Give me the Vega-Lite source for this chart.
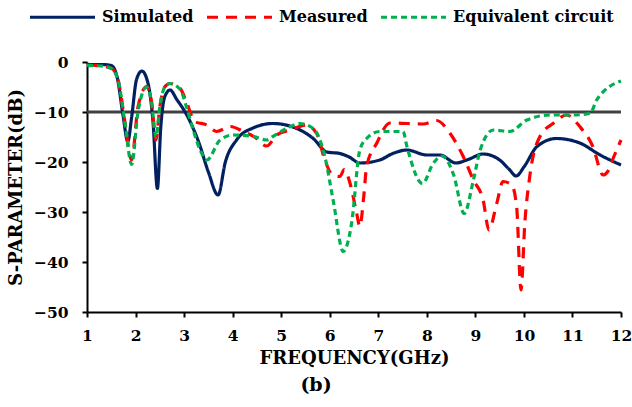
{
  "$schema": "https://vega.github.io/schema/vega-lite/v6.json",
  "width": 534,
  "height": 250,
  "autosize": {"type": "none"},
  "padding": {"left": 87, "top": 62, "right": 11, "bottom": 95},
  "background": "white",
  "title": {"text": "(b)", "orient": "bottom", "font": "DejaVu Serif", "fontWeight": "bold", "fontSize": 19, "color": "black", "offset": 8, "anchor": "middle", "dx": -38},
  "config": {"view": {"stroke": null}, "font": "DejaVu Serif"},
  "layer": [
    {
      "data": {"values": [{"f1": 1, "f2": 12, "v": -10}]},
      "mark": {"type": "rule", "color": "#404040", "strokeWidth": 3},
      "encoding": {
        "x": {"field": "f1", "type": "quantitative", "scale": {"domain": [1, 12], "nice": false}},
        "x2": {"field": "f2"},
        "y": {"field": "v", "type": "quantitative"}
      }
    },
    {
      "data": {"values": [
        {"s": "Simulated", "f": 1, "v": -0.5}, {"s": "Simulated", "f": 1.3, "v": -0.5}, {"s": "Simulated", "f": 1.5, "v": -0.7}, {"s": "Simulated", "f": 1.62, "v": -3}, {"s": "Simulated", "f": 1.74, "v": -10.5}, {"s": "Simulated", "f": 1.84, "v": -15.9}, {"s": "Simulated", "f": 1.92, "v": -11}, {"s": "Simulated", "f": 2.02, "v": -3.5}, {"s": "Simulated", "f": 2.13, "v": -1.8}, {"s": "Simulated", "f": 2.25, "v": -4}, {"s": "Simulated", "f": 2.36, "v": -12}, {"s": "Simulated", "f": 2.45, "v": -25.3}, {"s": "Simulated", "f": 2.52, "v": -13}, {"s": "Simulated", "f": 2.6, "v": -7}, {"s": "Simulated", "f": 2.71, "v": -5.6}, {"s": "Simulated", "f": 2.85, "v": -7.5}, {"s": "Simulated", "f": 3.05, "v": -10.5}, {"s": "Simulated", "f": 3.3, "v": -16}, {"s": "Simulated", "f": 3.5, "v": -22}, {"s": "Simulated", "f": 3.7, "v": -26.6}, {"s": "Simulated", "f": 3.85, "v": -20}, {"s": "Simulated", "f": 4.08, "v": -15.6}, {"s": "Simulated", "f": 4.42, "v": -13.2}, {"s": "Simulated", "f": 4.83, "v": -12.3}, {"s": "Simulated", "f": 5.24, "v": -13}, {"s": "Simulated", "f": 5.66, "v": -15.3}, {"s": "Simulated", "f": 5.94, "v": -18}, {"s": "Simulated", "f": 6.21, "v": -18.3}, {"s": "Simulated", "f": 6.4, "v": -19}, {"s": "Simulated", "f": 6.62, "v": -20.2}, {"s": "Simulated", "f": 7.03, "v": -19.6}, {"s": "Simulated", "f": 7.3, "v": -18.3}, {"s": "Simulated", "f": 7.59, "v": -17.6}, {"s": "Simulated", "f": 8.0, "v": -18.6}, {"s": "Simulated", "f": 8.27, "v": -18.6}, {"s": "Simulated", "f": 8.6, "v": -20.2}, {"s": "Simulated", "f": 8.85, "v": -19.5}, {"s": "Simulated", "f": 9.16, "v": -18.4}, {"s": "Simulated", "f": 9.5, "v": -19.6}, {"s": "Simulated", "f": 9.7, "v": -21.5}, {"s": "Simulated", "f": 9.84, "v": -22.8}, {"s": "Simulated", "f": 10.0, "v": -21}, {"s": "Simulated", "f": 10.27, "v": -16.9}, {"s": "Simulated", "f": 10.67, "v": -15.3}, {"s": "Simulated", "f": 11.15, "v": -16.2}, {"s": "Simulated", "f": 11.57, "v": -18.6}, {"s": "Simulated", "f": 12, "v": -20.6},
        {"s": "Measured", "f": 1, "v": -0.6}, {"s": "Measured", "f": 1.3, "v": -0.8}, {"s": "Measured", "f": 1.5, "v": -1.2}, {"s": "Measured", "f": 1.65, "v": -4}, {"s": "Measured", "f": 1.78, "v": -12}, {"s": "Measured", "f": 1.92, "v": -19.6}, {"s": "Measured", "f": 2.05, "v": -9}, {"s": "Measured", "f": 2.23, "v": -4.9}, {"s": "Measured", "f": 2.33, "v": -8}, {"s": "Measured", "f": 2.42, "v": -15.6}, {"s": "Measured", "f": 2.5, "v": -9}, {"s": "Measured", "f": 2.6, "v": -5}, {"s": "Measured", "f": 2.71, "v": -4.3}, {"s": "Measured", "f": 2.92, "v": -5.3}, {"s": "Measured", "f": 3.05, "v": -8}, {"s": "Measured", "f": 3.22, "v": -11.9}, {"s": "Measured", "f": 3.47, "v": -12.6}, {"s": "Measured", "f": 3.67, "v": -13.9}, {"s": "Measured", "f": 3.95, "v": -12.9}, {"s": "Measured", "f": 4.22, "v": -13.9}, {"s": "Measured", "f": 4.45, "v": -15}, {"s": "Measured", "f": 4.7, "v": -16.8}, {"s": "Measured", "f": 4.91, "v": -14.6}, {"s": "Measured", "f": 5.18, "v": -13.6}, {"s": "Measured", "f": 5.52, "v": -12.6}, {"s": "Measured", "f": 5.73, "v": -14.3}, {"s": "Measured", "f": 5.9, "v": -19.6}, {"s": "Measured", "f": 6.05, "v": -22.5}, {"s": "Measured", "f": 6.21, "v": -22.9}, {"s": "Measured", "f": 6.3, "v": -21.5}, {"s": "Measured", "f": 6.42, "v": -24.3}, {"s": "Measured", "f": 6.55, "v": -30}, {"s": "Measured", "f": 6.62, "v": -32.9}, {"s": "Measured", "f": 6.7, "v": -27}, {"s": "Measured", "f": 6.76, "v": -20.9}, {"s": "Measured", "f": 6.97, "v": -16.2}, {"s": "Measured", "f": 7.24, "v": -12.2}, {"s": "Measured", "f": 7.59, "v": -12.3}, {"s": "Measured", "f": 7.92, "v": -12.4}, {"s": "Measured", "f": 8.2, "v": -11.7}, {"s": "Measured", "f": 8.48, "v": -14.3}, {"s": "Measured", "f": 8.75, "v": -18.9}, {"s": "Measured", "f": 8.96, "v": -23.6}, {"s": "Measured", "f": 9.16, "v": -27.6}, {"s": "Measured", "f": 9.28, "v": -33.6}, {"s": "Measured", "f": 9.44, "v": -28.3}, {"s": "Measured", "f": 9.57, "v": -23.9}, {"s": "Measured", "f": 9.75, "v": -24.6}, {"s": "Measured", "f": 9.85, "v": -28.9}, {"s": "Measured", "f": 9.94, "v": -45.6}, {"s": "Measured", "f": 10.02, "v": -32}, {"s": "Measured", "f": 10.12, "v": -22.9}, {"s": "Measured", "f": 10.33, "v": -14.9}, {"s": "Measured", "f": 10.6, "v": -12.3}, {"s": "Measured", "f": 10.88, "v": -10.6}, {"s": "Measured", "f": 11.15, "v": -12.9}, {"s": "Measured", "f": 11.42, "v": -16.9}, {"s": "Measured", "f": 11.63, "v": -22.6}, {"s": "Measured", "f": 11.72, "v": -22}, {"s": "Measured", "f": 11.85, "v": -19}, {"s": "Measured", "f": 12, "v": -15.6},
        {"s": "Equivalent circuit", "f": 1, "v": -0.7}, {"s": "Equivalent circuit", "f": 1.3, "v": -0.8}, {"s": "Equivalent circuit", "f": 1.5, "v": -1.3}, {"s": "Equivalent circuit", "f": 1.65, "v": -4}, {"s": "Equivalent circuit", "f": 1.78, "v": -12}, {"s": "Equivalent circuit", "f": 1.92, "v": -20.5}, {"s": "Equivalent circuit", "f": 2.05, "v": -10}, {"s": "Equivalent circuit", "f": 2.23, "v": -5}, {"s": "Equivalent circuit", "f": 2.33, "v": -8}, {"s": "Equivalent circuit", "f": 2.42, "v": -15}, {"s": "Equivalent circuit", "f": 2.5, "v": -9}, {"s": "Equivalent circuit", "f": 2.6, "v": -5}, {"s": "Equivalent circuit", "f": 2.71, "v": -4.3}, {"s": "Equivalent circuit", "f": 2.92, "v": -5.5}, {"s": "Equivalent circuit", "f": 3.05, "v": -9}, {"s": "Equivalent circuit", "f": 3.2, "v": -14}, {"s": "Equivalent circuit", "f": 3.33, "v": -17.6}, {"s": "Equivalent circuit", "f": 3.47, "v": -19.6}, {"s": "Equivalent circuit", "f": 3.74, "v": -15.6}, {"s": "Equivalent circuit", "f": 4.01, "v": -14.6}, {"s": "Equivalent circuit", "f": 4.42, "v": -14.9}, {"s": "Equivalent circuit", "f": 4.7, "v": -15.6}, {"s": "Equivalent circuit", "f": 4.83, "v": -14.9}, {"s": "Equivalent circuit", "f": 5.11, "v": -13.3}, {"s": "Equivalent circuit", "f": 5.39, "v": -12.3}, {"s": "Equivalent circuit", "f": 5.66, "v": -13.3}, {"s": "Equivalent circuit", "f": 5.9, "v": -18.9}, {"s": "Equivalent circuit", "f": 6.07, "v": -27.6}, {"s": "Equivalent circuit", "f": 6.28, "v": -37.9}, {"s": "Equivalent circuit", "f": 6.45, "v": -32.3}, {"s": "Equivalent circuit", "f": 6.62, "v": -17.6}, {"s": "Equivalent circuit", "f": 6.76, "v": -15.3}, {"s": "Equivalent circuit", "f": 7.03, "v": -13.9}, {"s": "Equivalent circuit", "f": 7.51, "v": -13.9}, {"s": "Equivalent circuit", "f": 7.59, "v": -16.9}, {"s": "Equivalent circuit", "f": 7.91, "v": -24.3}, {"s": "Equivalent circuit", "f": 8.13, "v": -20.3}, {"s": "Equivalent circuit", "f": 8.31, "v": -18.8}, {"s": "Equivalent circuit", "f": 8.55, "v": -22.5}, {"s": "Equivalent circuit", "f": 8.77, "v": -30.3}, {"s": "Equivalent circuit", "f": 8.96, "v": -23.6}, {"s": "Equivalent circuit", "f": 9.1, "v": -17.6}, {"s": "Equivalent circuit", "f": 9.37, "v": -13.6}, {"s": "Equivalent circuit", "f": 9.71, "v": -13.9}, {"s": "Equivalent circuit", "f": 10.06, "v": -11.6}, {"s": "Equivalent circuit", "f": 10.54, "v": -10.6}, {"s": "Equivalent circuit", "f": 11.01, "v": -10.6}, {"s": "Equivalent circuit", "f": 11.36, "v": -10.3}, {"s": "Equivalent circuit", "f": 11.5, "v": -7.6}, {"s": "Equivalent circuit", "f": 12, "v": -3.8}
      ]},
      "mark": {"type": "line", "interpolate": "monotone", "strokeWidth": 3.2},
      "encoding": {
        "x": {"field": "f", "type": "quantitative",
          "scale": {"domain": [1, 12], "nice": false},
          "axis": {"title": "FREQUENCY(GHz)", "values": [1,2,3,4,5,6,7,8,9,10,11,12], "grid": false,
            "labelFont": "DejaVu Serif", "labelFontWeight": "bold", "labelFontSize": 15.5, "labelColor": "black",
            "titleFont": "DejaVu Serif", "titleFontWeight": "bold", "titleFontSize": 18, "titleColor": "black",
            "domainColor": "black", "domainWidth": 2, "tickColor": "black", "tickWidth": 2, "tickSize": 5,
            "labelPadding": 11, "titlePadding": 6, "labelFlush": false, "labelOverlap": false}},
        "y": {"field": "v", "type": "quantitative",
          "scale": {"domain": [-50, 0], "nice": false},
          "axis": {"title": "S-PARAMETER(dB)", "values": [0,-10,-20,-30,-40,-50], "grid": false,
            "labelFont": "DejaVu Serif", "labelFontWeight": "bold", "labelFontSize": 15.5, "labelColor": "black",
            "titleFont": "DejaVu Serif", "titleFontWeight": "bold", "titleFontSize": 18, "titleColor": "black",
            "domainColor": "black", "domainWidth": 2, "tickColor": "black", "tickWidth": 2, "tickSize": 5,
            "labelPadding": 14, "titlePadding": 8, "labelOverlap": false}},
        "color": {"field": "s", "type": "nominal",
          "scale": {"domain": ["Simulated", "Measured", "Equivalent circuit"], "range": ["#002060", "#FF0000", "#00B050"]},
          "legend": {"title": null, "orient": "none", "direction": "horizontal", "legendX": -59, "legendY": -79.5,
            "symbolType": "stroke", "symbolSize": 4225, "symbolStrokeWidth": 3.2,
            "labelFont": "DejaVu Serif", "labelFontWeight": "bold", "labelFontSize": 16, "labelColor": "black",
            "labelOffset": 5, "columnPadding": 6, "labelLimit": 400}},
        "strokeDash": {"field": "s", "type": "nominal",
          "scale": {"domain": ["Simulated", "Measured", "Equivalent circuit"], "range": [[1, 0], [11, 8], [6, 4]]},
          "legend": null}
      }
    }
  ]
}
